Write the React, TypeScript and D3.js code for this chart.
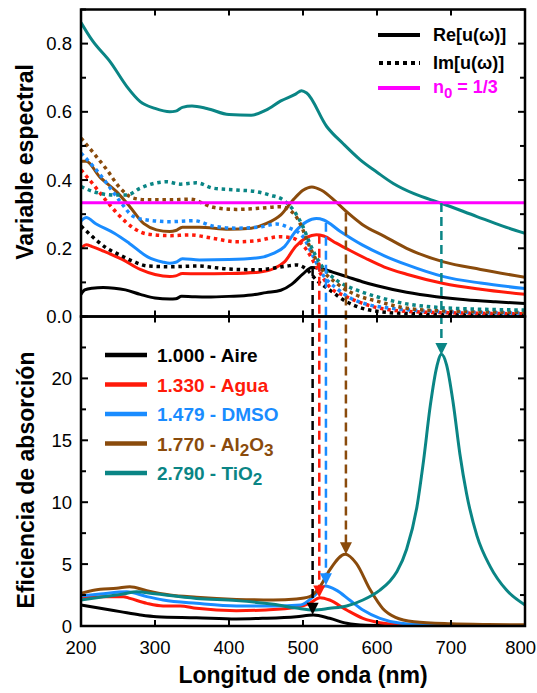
import React from "react";
import * as d3 from "d3";

type P = [number, number];

// ---------- data ----------
const xTicks = [200, 300, 400, 500, 600, 700, 800];
const yTopTicks = [0, 0.1, 0.2, 0.3, 0.4, 0.5, 0.6, 0.7, 0.8, 0.9];
const yTopLabels = [0, 0.2, 0.4, 0.6, 0.8];
const yBotTicks = [0, 2.5, 5, 7.5, 10, 12.5, 15, 17.5, 20, 22.5, 25];
const yBotLabels = [0, 5, 10, 15, 20];

const mediaNames = ["1.000 - Aire", "1.330 - Agua", "1.479 - DMSO", "1.770 - Al2O3", "2.790 - TiO2"];
const mediaColors = ["#000000", "#ff1a0a", "#1a8cff", "#8a4b0c", "#0a8585"];
const n0 = 1 / 3;

const reBlack: P[] = [[200,0.065],[205,0.078],[215,0.083],[230,0.085],[245,0.083],[260,0.078],[280,0.065],[300,0.054],[320,0.051],[328,0.052],[336,0.059],[350,0.058],[370,0.057],[400,0.059],[430,0.063],[450,0.07],[470,0.077],[485,0.095],[500,0.125],[512,0.144],[522,0.142],[540,0.13],[560,0.116],[580,0.102],[600,0.09],[640,0.071],[680,0.058],[720,0.049],[760,0.043],[800,0.038]];
const reRed: P[] = [[200,0.2],[207,0.21],[215,0.205],[230,0.192],[255,0.168],[280,0.138],[300,0.123],[320,0.117],[328,0.119],[337,0.126],[360,0.125],[400,0.126],[440,0.13],[460,0.14],[475,0.16],[490,0.205],[505,0.232],[518,0.24],[528,0.236],[545,0.215],[565,0.192],[585,0.17],[610,0.145],[640,0.124],[690,0.097],[740,0.08],[800,0.065]];
const reBlue: P[] = [[200,0.28],[207,0.29],[220,0.272],[245,0.244],[265,0.215],[290,0.175],[310,0.16],[320,0.156],[328,0.159],[337,0.169],[360,0.166],[400,0.167],[440,0.172],[460,0.185],[475,0.205],[490,0.25],[505,0.278],[518,0.287],[528,0.283],[550,0.25],[580,0.21],[610,0.178],[640,0.152],[690,0.117],[740,0.098],[800,0.082]];
const reBrown: P[] = [[200,0.455],[207,0.455],[225,0.41],[248,0.366],[266,0.322],[285,0.272],[302,0.254],[320,0.249],[328,0.252],[337,0.262],[360,0.262],[400,0.256],[430,0.259],[450,0.272],[470,0.298],[488,0.345],[500,0.37],[512,0.38],[525,0.37],[545,0.335],[560,0.305],[580,0.27],[610,0.235],[640,0.2],[690,0.16],[740,0.138],[800,0.115]];
const reTeal: P[] = [[200,0.862],[215,0.81],[240,0.745],[262,0.674],[280,0.63],[300,0.61],[320,0.6],[328,0.602],[337,0.613],[350,0.617],[370,0.61],[400,0.592],[430,0.59],[450,0.605],[470,0.632],[490,0.652],[498,0.662],[505,0.655],[532,0.557],[555,0.505],[577,0.46],[600,0.423],[622,0.39],[650,0.36],[687,0.332],[735,0.293],[770,0.265],[800,0.244]];

const imBlack: P[] = [[200,0.265],[210,0.245],[220,0.225],[235,0.2],[253,0.18],[271,0.161],[290,0.148],[320,0.146],[356,0.148],[400,0.139],[440,0.137],[478,0.148],[492,0.151],[505,0.138],[518,0.107],[536,0.078],[559,0.043],[580,0.024],[604,0.014],[650,0.008],[720,0.005],[800,0.004]];
const imRed: P[] = [[200,0.43],[217,0.386],[235,0.337],[253,0.293],[271,0.259],[289,0.242],[320,0.237],[347,0.239],[379,0.229],[410,0.219],[437,0.222],[469,0.234],[487,0.229],[505,0.195],[518,0.146],[536,0.087],[559,0.058],[580,0.039],[604,0.024],[650,0.014],[720,0.01],[800,0.008]];
const imBlue: P[] = [[200,0.479],[217,0.439],[235,0.39],[253,0.337],[271,0.293],[289,0.283],[320,0.278],[352,0.281],[379,0.265],[410,0.259],[440,0.262],[464,0.271],[482,0.259],[500,0.234],[514,0.175],[527,0.122],[545,0.083],[565,0.053],[590,0.034],[620,0.024],[680,0.015],[800,0.01]];
const imBrown: P[] = [[200,0.523],[217,0.479],[235,0.43],[253,0.376],[271,0.347],[289,0.342],[320,0.342],[347,0.344],[379,0.32],[410,0.314],[440,0.317],[469,0.322],[487,0.303],[496,0.273],[509,0.205],[523,0.146],[545,0.098],[572,0.063],[600,0.045],[635,0.026],[680,0.017],[800,0.012]];
const imTeal: P[] = [[200,0.381],[217,0.366],[244,0.356],[262,0.356],[280,0.376],[298,0.39],[316,0.395],[334,0.388],[356,0.392],[379,0.376],[410,0.371],[437,0.366],[455,0.356],[473,0.342],[487,0.312],[500,0.263],[509,0.215],[523,0.156],[545,0.107],[572,0.078],[600,0.058],[635,0.039],[680,0.027],[730,0.022],[800,0.019]];

const qBlack: P[] = [[200,1.7],[226,1.43],[253,1.16],[280,0.89],[302,0.75],[356,0.67],[410,0.57],[446,0.62],[491,0.75],[514,0.89],[536,0.62],[559,0.22],[585,0.06],[620,0.02],[700,0.01],[800,0.0]];
const qRed: P[] = [[200,2.32],[230,2.37],[257,2.37],[266,2.23],[289,1.83],[311,1.62],[334,1.62],[356,1.43],[410,1.24],[450,1.3],[491,1.51],[509,1.83],[523,2.29],[536,2.1],[559,1.29],[581,0.62],[604,0.27],[640,0.08],[700,0.02],[800,0.0]];
const qBlue: P[] = [[200,2.42],[226,2.58],[262,2.77],[289,2.37],[311,2.1],[356,1.83],[410,1.62],[460,1.62],[497,1.7],[514,2.37],[530,3.23],[545,2.9],[563,2.1],[581,1.29],[604,0.62],[630,0.25],[680,0.06],[800,0.01]];
const qBrown: P[] = [[200,2.64],[226,2.96],[248,3.04],[266,3.18],[289,2.85],[320,2.5],[356,2.32],[410,2.15],[460,2.1],[491,2.18],[509,2.37],[523,3.18],[536,4.52],[557,5.79],[572,5.06],[591,2.9],[608,1.4],[625,0.7],[650,0.35],[700,0.18],[750,0.12],[800,0.1]];
const qTeal: P[] = [[200,2.1],[226,2.32],[257,2.58],[275,2.77],[300,2.6],[356,2.23],[410,2.05],[460,1.75],[491,1.45],[514,1.29],[536,1.43],[559,1.62],[581,2.1],[604,2.9],[617,3.6],[627,4.4],[640,6.2],[654,9.64],[663,13.4],[672,17.8],[681,21.0],[687,21.95],[694,21.1],[703,18.0],[712,13.9],[721,10.7],[735,7.3],[753,4.8],[775,2.9],[800,1.7]];

const reSeries = [reBlack, reRed, reBlue, reBrown, reTeal];
const imSeries = [imBlack, imRed, imBlue, imBrown, imTeal];
const qSeries = [qBlack, qRed, qBlue, qBrown, qTeal];

// resonance markers
const resLambda = [513, 522, 531, 558, 687];
const resReValue = [0.145, 0.24, 0.275, 0.305, 0.333];
const resPeak = [0.9, 2.3, 3.3, 5.8, 21.9];

// ---------- layout ----------
const W = 537, H = 693;
const L = 81, R = 525, T1 = 9.5, MID = 316.5, B2 = 626;
const FONT = "'Liberation Sans', Arial, Helvetica, sans-serif";

const x = d3.scaleLinear().domain([200, 800]).range([L, R]);
const yT = d3.scaleLinear().domain([0, 0.9]).range([MID, T1]);
const yB = d3.scaleLinear().domain([0, 25]).range([B2, MID]);

const lineT = d3.line<P>().x(d => x(d[0])).y(d => yT(d[1])).curve(d3.curveMonotoneX);
const lineB = d3.line<P>().x(d => x(d[0])).y(d => yB(d[1])).curve(d3.curveMonotoneX);

function Label({ text, color, x0, y0, size }: { text: string; color: string; x0: number; y0: number; size: number }) {
  const m = text.match(/^(.*?)(Al2O3|TiO2)$/);
  if (!m) {
    return <text x={x0} y={y0} fill={color} fontSize={size} fontWeight="bold" fontFamily={FONT}>{text}</text>;
  }
  const sub = (s: string) => <tspan dy={5} fontSize={size * 0.9}>{s}</tspan>;
  const up = (s: string) => <tspan dy={-5}>{s}</tspan>;
  return (
    <text x={x0} y={y0} fill={color} fontSize={size} fontWeight="bold" fontFamily={FONT}>
      {m[1]}
      {m[2] === "Al2O3" ? (<>{"Al"}{sub("2")}{up("O")}{sub("3")}</>) : (<>{"TiO"}{sub("2")}</>)}
    </text>
  );
}

export default function App() {
  const tickLen = 6;
  return (
    <svg width={W} height={H} style={{ position: "absolute", left: 0, top: 0, background: "#fff" }}>
      <defs>
        <clipPath id="cTop"><rect x={L} y={T1} width={R - L} height={MID - T1} /></clipPath>
        <clipPath id="cBot"><rect x={L} y={MID} width={R - L} height={B2 - MID} /></clipPath>
      </defs>

      {/* top panel curves */}
      <g clipPath="url(#cTop)">
        {reSeries.map((s, i) => (
          <path key={"re" + i} d={lineT(s) || ""} fill="none" stroke={mediaColors[i]} strokeWidth={3} />
        ))}
        {imSeries.map((s, i) => (
          <path key={"im" + i} d={lineT(s) || ""} fill="none" stroke={mediaColors[i]} strokeWidth={3.5} strokeDasharray="3.5 3.8" />
        ))}
        <line x1={L} x2={R} y1={yT(n0)} y2={yT(n0)} stroke="#ff00ff" strokeWidth={3} />
      </g>

      {/* bottom panel curves */}
      <g clipPath="url(#cBot)">
        {qSeries.map((s, i) => (
          <path key={"q" + i} d={lineB(s) || ""} fill="none" stroke={mediaColors[i]} strokeWidth={3} />
        ))}
      </g>

      {/* resonance dashed arrows */}
      {resLambda.map((lam, i) => {
        const xx = x(lam);
        const tip = yB(resPeak[i]);
        const th = 12, tw = 12;
        return (
          <g key={"res" + i}>
            <line x1={xx} x2={xx} y1={yT(resReValue[i])} y2={tip - th + 1} stroke={mediaColors[i]} strokeWidth={2.5} strokeDasharray="9 5" />
            <path d={`M${xx - tw / 2},${tip - th} L${xx + tw / 2},${tip - th} L${xx},${tip} Z`} fill={mediaColors[i]} />
          </g>
        );
      })}

      {/* frames */}
      <rect x={L} y={T1} width={R - L} height={MID - T1} fill="none" stroke="#000" strokeWidth={2.5} />
      <rect x={L} y={MID} width={R - L} height={B2 - MID} fill="none" stroke="#000" strokeWidth={2.5} />

      {/* x ticks */}
      {xTicks.map(t => (
        <g key={"xt" + t} stroke="#000" strokeWidth={2}>
          <line x1={x(t)} x2={x(t)} y1={T1} y2={T1 + tickLen} />
          <line x1={x(t)} x2={x(t)} y1={MID - tickLen} y2={MID + tickLen} />
          <line x1={x(t)} x2={x(t)} y1={B2} y2={B2 - tickLen} />
        </g>
      ))}
      {xTicks.map((t, i) => {
        const last = i === xTicks.length - 1;
        return (
          <text key={"xl" + t} x={last ? 536 : x(t)} y={654} textAnchor={last ? "end" : "middle"} fontSize={18.5} fontFamily={FONT} fill="#000">{t}</text>
        );
      })}

      {/* y ticks top */}
      {yTopTicks.map(t => {
        const major = yTopLabels.some(v => Math.abs(v - t) < 1e-9);
        const len = major ? 7 : 5;
        return (
          <g key={"yt" + t} stroke="#000" strokeWidth={2}>
            <line x1={L} x2={L + len} y1={yT(t)} y2={yT(t)} />
            <line x1={R} x2={R - len} y1={yT(t)} y2={yT(t)} />
          </g>
        );
      })}
      {yTopLabels.map(t => (
        <text key={"ytl" + t} x={72} y={yT(t) + 6.5} textAnchor="end" fontSize={18.5} fontFamily={FONT} fill="#000">{t.toFixed(1)}</text>
      ))}

      {/* y ticks bottom */}
      {yBotTicks.map(t => {
        const major = yBotLabels.includes(t);
        const len = major ? 7 : 5;
        return (
          <g key={"yb" + t} stroke="#000" strokeWidth={2}>
            <line x1={L} x2={L + len} y1={yB(t)} y2={yB(t)} />
            <line x1={R} x2={R - len} y1={yB(t)} y2={yB(t)} />
          </g>
        );
      })}
      {yBotLabels.map(t => (
        <text key={"ybl" + t} x={72} y={yB(t) + 6.5} textAnchor="end" fontSize={18.5} fontFamily={FONT} fill="#000">{t}</text>
      ))}

      {/* axis titles */}
      <text transform={`translate(33,162) rotate(-90)`} textAnchor="middle" fontSize={23} fontWeight="bold" fontFamily={FONT} fill="#000">Variable espectral</text>
      <text transform={`translate(34,480) rotate(-90)`} textAnchor="middle" fontSize={23} fontWeight="bold" fontFamily={FONT} fill="#000">Eficiencia de absorción</text>
      <text x={303} y={683} textAnchor="middle" fontSize={23} fontWeight="bold" fontFamily={FONT} fill="#000">Longitud de onda (nm)</text>

      {/* top legend */}
      <line x1={378} x2={420} y1={35} y2={35} stroke="#000" strokeWidth={4} />
      <text x={433} y={41} fontSize={18} fontWeight="bold" fontFamily={FONT} fill="#000">Re[u(ω)]</text>
      <line x1={379} x2={420} y1={63} y2={63} stroke="#000" strokeWidth={4} strokeDasharray="4 4" />
      <text x={433} y={69} fontSize={18} fontWeight="bold" fontFamily={FONT} fill="#000">Im[u(ω)]</text>
      <line x1={378} x2={420} y1={88} y2={88} stroke="#ff00ff" strokeWidth={4} />
      <text x={433} y={93} fontSize={18} fontWeight="bold" fontFamily={FONT} fill="#ff00ff">
        n<tspan dy={5} fontSize={15}>0</tspan><tspan dy={-5}> = 1/3</tspan>
      </text>

      {/* bottom legend */}
      {mediaNames.map((name, i) => {
        const yy = 355 + i * 29.5;
        return (
          <g key={"lg" + i}>
            <line x1={105} x2={147} y1={yy} y2={yy} stroke={mediaColors[i]} strokeWidth={4.5} />
            <Label text={name} color={mediaColors[i]} x0={157} y0={yy + 7} size={19} />
          </g>
        );
      })}
    </svg>
  );
}
